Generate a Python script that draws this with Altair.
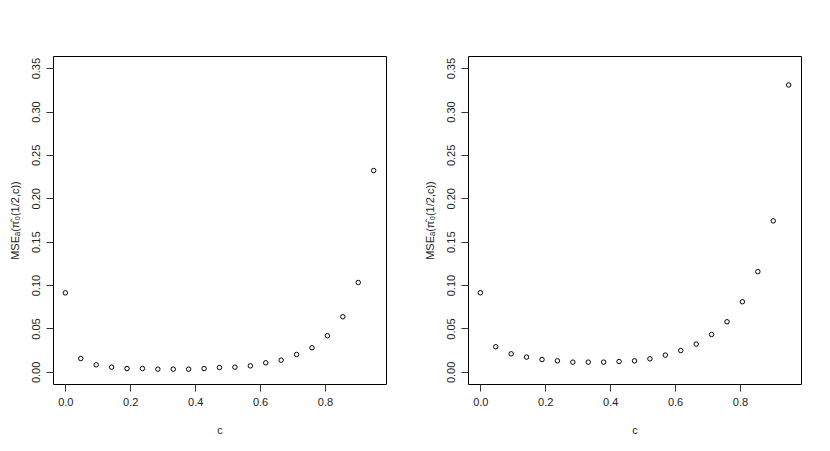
import altair as alt
import pandas as pd

c_values = [0.0, 0.0475, 0.095, 0.1425, 0.19, 0.2375, 0.285, 0.3325, 0.38, 0.4275,
            0.475, 0.5225, 0.57, 0.6175, 0.665, 0.7125, 0.76, 0.8075, 0.855, 0.9025, 0.95]
mse_left = [0.091, 0.0154, 0.0081, 0.0054, 0.0038, 0.0038, 0.0031, 0.0031, 0.0031, 0.0038,
            0.0050, 0.0054, 0.0069, 0.0104, 0.0135, 0.0200, 0.0277, 0.0416, 0.0635, 0.103, 0.232]
mse_right = [0.0912, 0.0289, 0.0208, 0.0170, 0.0142, 0.0127, 0.0112, 0.0112, 0.0112, 0.0119,
             0.0127, 0.0150, 0.0193, 0.0246, 0.0320, 0.0431, 0.0577, 0.0808, 0.1155, 0.174, 0.3306]

x_ticks = [0.0, 0.2, 0.4, 0.6, 0.8]
y_ticks = [0.0, 0.05, 0.10, 0.15, 0.20, 0.25, 0.30, 0.35]
y_title = "MSE\u2090(\u03c0\u0302\u2080(1/2,c))"
FONT = "Liberation Sans"


def panel(values):
    df = pd.DataFrame({"c": c_values, "mse": values})
    return alt.Chart(df).mark_point(
        shape="circle", filled=False, size=20, color="black", strokeWidth=1, opacity=1
    ).encode(
        x=alt.X("c:Q", title="c",
                scale=alt.Scale(domain=[-0.038, 0.988], nice=False, zero=False),
                axis=alt.Axis(values=x_ticks, format=".1f", grid=False, domain=False,
                              tickSize=7, tickColor="#333", labelPadding=5,
                              labelFont=FONT, labelFontSize=11, labelColor="#222",
                              titleFont=FONT, titleFontSize=11, titleFontWeight="normal",
                              titleColor="#222", titlePadding=17)),
        y=alt.Y("mse:Q", title=y_title,
                scale=alt.Scale(domain=[-0.014, 0.364], nice=False, zero=False),
                axis=alt.Axis(values=y_ticks, format=".2f", grid=False, domain=False,
                              tickSize=7, tickColor="#333", labelPadding=5,
                              labelAngle=270, labelAlign="center", labelBaseline="bottom",
                              labelFont=FONT, labelFontSize=11, labelColor="#222",
                              titleFont=FONT, titleFontSize=11, titleFontWeight="normal",
                              titleColor="#222", titlePadding=10)),
    ).properties(width=333, height=328)


chart = alt.hconcat(panel(mse_left), panel(mse_right), spacing=36).configure_view(
    stroke="black", strokeWidth=1
).properties(
    padding={"left": 0, "top": 47, "right": 0, "bottom": 0},
    background="white",
)

chart.save("out.html", embed_options={"renderer": "svg", "actions": False})
